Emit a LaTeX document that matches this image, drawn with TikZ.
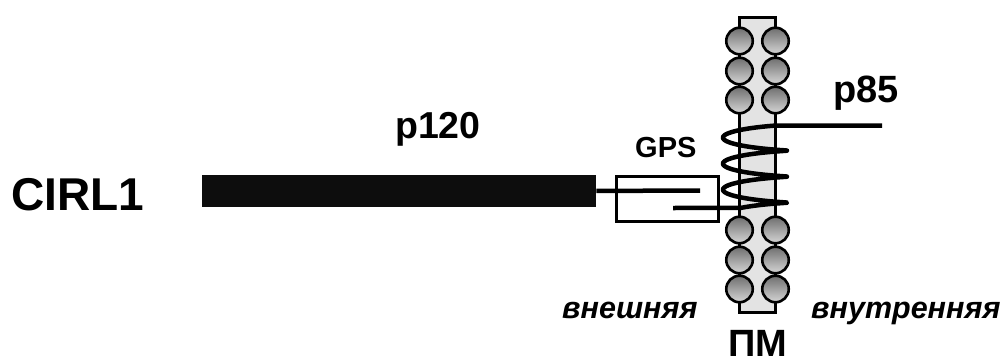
\documentclass[tikz,border=0pt]{standalone}
\usepackage{fontspec}
\setmainfont{Liberation Sans}
\definecolor{barblack}{HTML}{0D0D0D}
\definecolor{pmfill}{HTML}{E3E3E3}
\definecolor{beadtop}{HTML}{6E6E6E}
\definecolor{beadbot}{HTML}{D6D6D6}
\begin{document}
\begin{tikzpicture}[x=1pt,y=-1pt,
  lbl/.style={inner sep=0pt, anchor=base west, font=\bfseries},
  side/.style={inner sep=0pt, anchor=base west, font=\bfseries\itshape\fontsize{30.5}{36}\selectfont},
  wire/.style={line width=4.5pt, line join=round},
  bead/.style={circle, draw=black, line width=2.6pt, minimum size=26.5pt, inner sep=0pt,
               top color=beadtop, bottom color=beadbot},
  membrane/.style={draw=black, fill=pmfill, line width=3pt, minimum width=36pt,
                   minimum height=294pt, inner sep=0pt}]
\useasboundingbox (0,0) rectangle (1001,361);

% protein chain CIRL1 (p120 part)
\node[fill=barblack, minimum width=394pt, minimum height=31.5pt, inner sep=0pt,
      anchor=north west] (bar) at (202,175) {};

% GPS domain box
\node[draw=black, line width=2.5pt, minimum width=102pt, minimum height=45pt,
      inner sep=0pt, anchor=north west] (gps) at (615,175) {};

% plasma membrane with lipid heads
\node[membrane] (pm) at (757.5,165) {};
\foreach \y [count=\i] in {41,71,100,230,260,289}{
  \node[bead] (l\i) at (739.5,\y) {};
  \node[bead] (r\i) at (775.5,\y) {};
}

% connectors
\coordinate (gpsA) at (700,190.5);
\coordinate (gpsB) at (673,208);
\coordinate (p85end) at (882,125.5);
\draw[line width=4.5pt] (bar.east) -- (gpsA);

% p85 seven-transmembrane helix coil, a projected helix
\draw[wire] (p85end) --
  plot[domain=0.875:20.89, samples=400, variable=\t]
    ({755+32*cos(\t r)}, {124.6+4.14*\t-3.5*sin(\t r)}) -- (gpsB);

% labels
\node[lbl, font=\bfseries\fontsize{46}{55}\selectfont] (cirl) at (11,210) {CIRL1};
\node[lbl, font=\bfseries\fontsize{37.5}{45}\selectfont] (p120) at (395,138) {p120};
\node[lbl, font=\bfseries\fontsize{29}{35}\selectfont] (gpsl) at (635,157) {GPS};
\node[lbl, font=\bfseries\fontsize{38}{45}\selectfont] (p85) at (833,102) {p85};
\node[lbl, font=\bfseries\fontsize{38}{45}\selectfont] (pml) at (728,356) {ПМ};
\node[side] (out) at (562,318) {внешняя};
\node[side] (in) at (811,318) {внутренняя};
\end{tikzpicture}
\end{document}
